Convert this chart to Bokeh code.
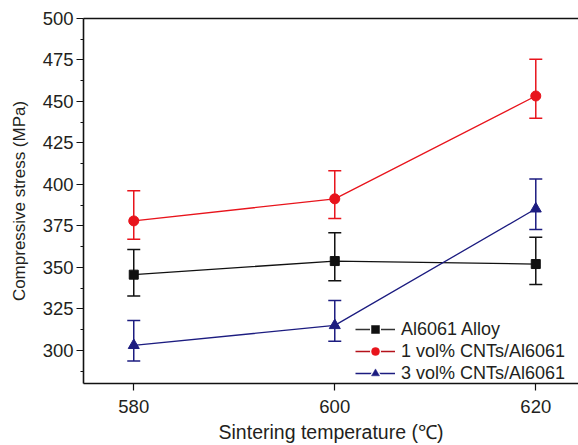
from bokeh.plotting import figure
from bokeh.models import (ColumnDataSource, Whisker, TeeHead, FixedTicker, LinearAxis,
                          Legend)
from bokeh.embed import file_html
from bokeh.resources import INLINE

# ---- data ----
temps = [580, 600, 620]
alloy = [345.6, 353.8, 352.0]
alloy_lo = [332.7, 342.0, 339.7]
alloy_hi = [360.8, 370.8, 368.2]
cnt1 = [378.0, 391.3, 453.3]
cnt1_lo = [367.0, 379.5, 439.9]
cnt1_hi = [396.2, 408.2, 475.5]
cnt3 = [303.0, 315.0, 385.3]
cnt3_lo = [293.6, 305.5, 372.8]
cnt3_hi = [317.9, 330.0, 403.2]
y_ticks = [300, 325, 350, 375, 400, 425, 450, 475, 500]
y_minor = [287.5, 312.5, 337.5, 362.5, 387.5, 412.5, 437.5, 462.5, 487.5]
x_ticks = [580, 600, 620]
names = ["Al6061 Alloy", "1 vol% CNTs/Al6061", "3 vol% CNTs/Al6061"]

FONT = "Liberation Sans"
TXT = "#231f20"
BLACK = "#111111"
RED = "#e8141c"
BLUE = "#1c1c80"

p = figure(width=578, height=445, x_range=(575, 624.25), y_range=(280, 500),
           output_backend="svg", toolbar_location=None,
           min_border_left=83, min_border_right=0, min_border_top=18,
           min_border_bottom=56)
p.xaxis.visible = False
p.yaxis.visible = False
p.xgrid.visible = False
p.ygrid.visible = False
p.outline_line_color = None
p.background_fill_color = "white"
p.border_fill_color = "white"

def style_axis(ax):
    ax.axis_line_color = BLACK
    ax.axis_line_width = 1.6
    ax.major_tick_line_color = BLACK
    ax.minor_tick_line_color = BLACK
    ax.major_tick_line_width = 1.2
    ax.minor_tick_line_width = 1.2
    ax.major_label_text_font = FONT
    ax.major_label_text_font_size = "18.5px"
    ax.major_label_text_color = TXT
    ax.axis_label_text_font = FONT
    ax.axis_label_text_font_size = "18px"
    ax.axis_label_text_font_style = "normal"
    ax.axis_label_text_color = TXT

xax = LinearAxis(ticker=FixedTicker(ticks=x_ticks), axis_label="Sintering temperature (\u2103)")
style_axis(xax)
xax.axis_label_text_font_size = "19.5px"
xax.major_tick_in = 0
xax.major_tick_out = 7
xax.minor_tick_out = 0
xax.major_label_standoff = 9
xax.axis_label_standoff = 5
p.add_layout(xax, "below")

yax = LinearAxis(ticker=FixedTicker(ticks=y_ticks, minor_ticks=y_minor),
                 axis_label="Compressive stress (MPa)")
style_axis(yax)
yax.axis_label_text_font_size = "17px"
yax.major_tick_in = 0
yax.major_tick_out = 7
yax.minor_tick_in = 0
yax.minor_tick_out = 3
yax.major_label_standoff = 3
yax.axis_label_standoff = 11
p.add_layout(yax, "left")

top = LinearAxis(ticker=FixedTicker(ticks=[]), major_label_text_font_size="0px")
top.axis_line_color = BLACK
top.axis_line_width = 1.6
top.major_tick_out = 0
top.minor_tick_out = 0
top.major_label_standoff = 0
p.add_layout(top, "above")

series = [
    (alloy, alloy_lo, alloy_hi, BLACK, "square", 9, 7, "#333333"),
    (cnt1, cnt1_lo, cnt1_hi, RED, "circle", 10, 7, "#b5121b"),
    (cnt3, cnt3_lo, cnt3_hi, BLUE, "triangle", 11, 8, BLUE),
]
items = []
for (vals, lo, hi, col, mk, sz, lsz, lcol), name in zip(series, names):
    src = ColumnDataSource(dict(x=temps, y=vals, lo=lo, hi=hi))
    w = Whisker(source=src, base="x", lower="lo", upper="hi",
                line_color=col, line_width=1.5,
                upper_head=TeeHead(size=13, line_color=col, line_width=1.5),
                lower_head=TeeHead(size=13, line_color=col, line_width=1.5))
    p.add_layout(w)
    p.line("x", "y", source=src, line_color=col, line_width=1.3)
    p.scatter("x", "y", source=src, marker=mk, size=sz, fill_color=col,
              line_color=col)
    # legend-only glyphs: a single missing (NaN) point, so nothing is drawn on the plot
    nan_src = ColumnDataSource(dict(x=[float("nan")], y=[float("nan")]))
    g1 = p.line("x", "y", source=nan_src, line_color=lcol, line_width=1.3)
    g2 = p.scatter("x", "y", source=nan_src, marker=mk, size=lsz, fill_color=col,
                   line_color="white", line_width=3)
    g3 = p.scatter("x", "y", source=nan_src, marker=mk, size=lsz,
                   fill_color=col, line_color=col, line_width=0.5)
    items.append((name, [g1, g2, g3]))

legend = Legend(items=items, location=(272, -1))
legend.background_fill_alpha = 0
legend.border_line_color = None
legend.padding = 0
legend.margin = 0
legend.spacing = 0
legend.glyph_width = 40
legend.glyph_height = 20
legend.label_height = 22
legend.label_standoff = 6
legend.label_text_font = FONT
legend.label_text_font_size = "18px"
legend.label_text_color = TXT
p.add_layout(legend, "center")

open("out.html", "w").write(file_html(p, INLINE))
